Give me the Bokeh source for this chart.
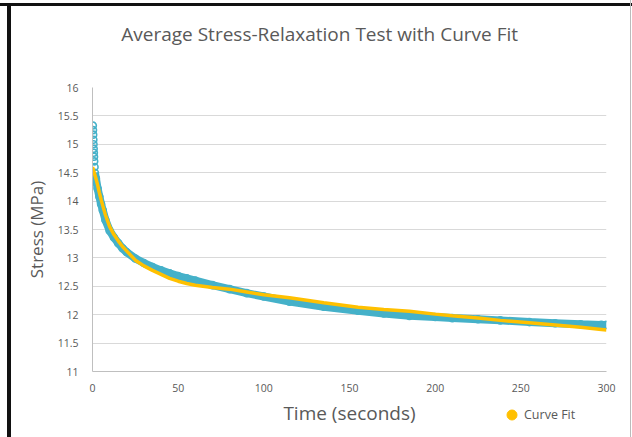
from bokeh.plotting import figure
from bokeh.layouts import column
from bokeh.models import FixedTicker, Legend, LegendItem, Label
from bokeh.embed import file_html
from bokeh.resources import INLINE

time_s = [0.2, 0.3, 0.4, 0.5, 0.6, 0.7, 0.8, 0.9, 1.0, 1.2, 1.4,
          2, 3, 4, 5, 6, 7.5, 10, 12.5, 15, 17.5, 20, 25, 30, 35, 40, 45,
          50, 55, 60, 70, 80, 90, 100, 115, 135, 155, 170, 185, 200, 210,
          225, 238, 255, 270, 285, 297, 300]
stress_mpa = [15.33, 15.25, 15.17, 15.08, 15.0, 14.92, 14.85, 14.78, 14.70, 14.60, 14.50,
              14.40, 14.22, 14.08, 13.95, 13.84, 13.67, 13.48, 13.36, 13.26, 13.17, 13.10,
              12.99, 12.91, 12.84, 12.78, 12.73, 12.68, 12.64, 12.60, 12.52, 12.45, 12.38,
              12.32, 12.23, 12.14, 12.07, 12.02, 11.98, 11.96, 11.94, 11.92, 11.90, 11.87,
              11.85, 11.83, 11.82, 11.82]

# Curve fit
fit_time = [0, 1, 2, 3, 4, 5, 6, 7.5, 10, 12.5, 15, 17.5, 20, 25, 30, 35, 40, 45,
            50, 55, 60, 70, 80, 90, 100, 115, 135, 155, 170, 185, 200, 210, 225,
            238, 255, 270, 285, 297, 300]
fit_stress = [14.60, 14.50, 14.40, 14.28, 14.15, 14.03, 13.92, 13.76, 13.55, 13.41,
              13.30, 13.20, 13.12, 12.96, 12.86, 12.78, 12.71, 12.64, 12.59, 12.55,
              12.52, 12.48, 12.45, 12.40, 12.35, 12.30, 12.21, 12.13, 12.09, 12.06,
              12.01, 11.98, 11.94, 11.90, 11.86, 11.82, 11.78, 11.74, 11.73]

y_ticks = [11, 11.5, 12, 12.5, 13, 13.5, 14, 14.5, 15, 15.5, 16]
y_tick_labels = ["11", "11.5", "12", "12.5", "13", "13.5", "14", "14.5", "15", "15.5", "16"]
x_ticks = [0, 50, 100, 150, 200, 250, 300]
title_text = "Average Stress-Relaxation Test with Curve Fit"
x_title = "Time (seconds)"
y_title = "Stress (MPa)"
fit_name = "Curve Fit"

TEAL = "#45B1C9"
GOLD = "#FFC000"
GREY_TXT = "#595959"
FONT = "Open Sans"
FRAME_SIDES = ("linear-gradient(#111,#111) 7px 0 / 4px 100% no-repeat, "
               "linear-gradient(#BBB,#BBB) 630px 0 / 1px 100% no-repeat")


def strip(height):
    f = figure(width=632, height=height, output_backend="svg", toolbar_location=None,
               x_range=(0, 1), y_range=(0, 1),
               min_border_left=92, min_border_right=26, min_border_top=0, min_border_bottom=0)
    f.axis.visible = False
    f.grid.visible = False
    f.outline_line_color = None
    f.border_fill_color = None
    f.background_fill_color = None
    return f


# ---------------- top strip: chart title ----------------
p0 = strip(60)
p0.styles = {"background": (FRAME_SIDES.replace("7px 0", "7px 3px") +
                            ", linear-gradient(#111,#111) 0 3px / 100% 3px no-repeat, white")}
p0.add_layout(Label(x=0.056, y=0.45, text=title_text, text_align="left",
                    text_baseline="middle", text_font=FONT, text_font_size="19px",
                    text_color=GREY_TXT))

# ---------------- main chart ----------------
p = figure(width=632, height=338, output_backend="svg", toolbar_location=None,
           x_range=(0, 300), y_range=(11, 16),
           min_border_left=92, min_border_right=26, min_border_top=27, min_border_bottom=27)

p.border_fill_color = None
p.background_fill_color = "white"
p.styles = {"background": FRAME_SIDES + ", white"}

p.outline_line_color = None
p.xgrid.grid_line_color = None
p.ygrid.grid_line_color = "#D9D9D9"
p.ygrid.grid_line_width = 1

for ax in (p.xaxis[0], p.yaxis[0]):
    ax.axis_line_color = "#BFBFBF"
    ax.major_tick_line_color = None
    ax.minor_tick_line_color = None
    ax.major_label_text_font = FONT
    ax.major_label_text_font_size = "10.5px"
    ax.major_label_text_color = GREY_TXT
    ax.axis_label_text_font = FONT
    ax.axis_label_text_font_style = "normal"
    ax.axis_label_text_color = GREY_TXT

p.xaxis.ticker = FixedTicker(ticks=x_ticks)
p.yaxis.ticker = FixedTicker(ticks=y_ticks)
p.yaxis.major_label_overrides = {t: l for t, l in zip(y_ticks, y_tick_labels)}
p.yaxis.axis_label = y_title
p.yaxis.axis_label_text_font_size = "17px"
p.xaxis.major_label_standoff = 6
p.yaxis.major_label_standoff = 8
p.yaxis.axis_label_standoff = 7

# measured data: thick band of open circles
p.line(time_s[10:], stress_mpa[10:], line_color=TEAL, line_width=8)
p.scatter(time_s, stress_mpa, size=7, fill_color="white", fill_alpha=0.0,
          line_color=TEAL, line_width=1.6)
# curve fit
p.line(fit_time, fit_stress, line_color=GOLD, line_width=3.5)

# ---------------- bottom strip: x-axis title + legend ----------------
p2 = strip(39)
p2.styles = {"background": FRAME_SIDES + ", white"}

p2.add_layout(Label(x=0.5, y=0.62, text=x_title, text_align="center",
                    text_baseline="middle", text_font=FONT, text_font_size="19px",
                    text_color=GREY_TXT))

# legend swatch: one curve-fit point (falls outside this strip's ranges, so only the key shows)
fit_dot = p2.scatter([fit_time[0]], [fit_stress[0]], size=11, fill_color=GOLD, line_color=GOLD)
legend = Legend(items=[LegendItem(label=fit_name, renderers=[fit_dot])],
                location=(407, 10), border_line_color=None,
                background_fill_alpha=0.0, label_text_font=FONT,
                label_text_font_size="12.5px", label_text_color=GREY_TXT,
                glyph_width=25, glyph_height=25, padding=0, margin=0, spacing=0,
                label_standoff=0, label_height=12)
p2.add_layout(legend, "center")

layout = column(p0, p, p2, spacing=0)
open("out.html", "w").write(file_html(layout, INLINE))
